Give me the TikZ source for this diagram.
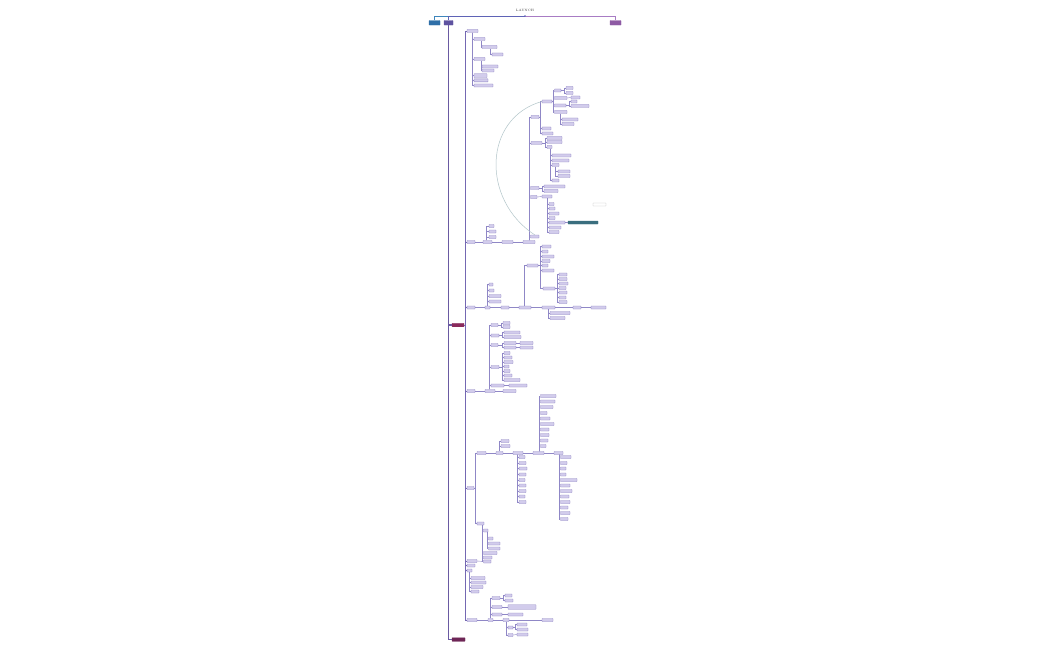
\documentclass[tikz,border=0pt]{standalone}
\usetikzlibrary{calc}
\definecolor{lav}{HTML}{D2CCEC}
\definecolor{bdr}{HTML}{8C83C2}
\definecolor{lnc}{HTML}{8F87C6}
\definecolor{spc}{HTML}{7468B2}
\definecolor{thc}{HTML}{6A5AA2}
\definecolor{blueN}{HTML}{2F6FA8}
\definecolor{purN}{HTML}{5E52A0}
\definecolor{rN}{HTML}{8E5AA4}
\definecolor{magN}{HTML}{8A2A5C}
\definecolor{magNN}{HTML}{6E2656}
\definecolor{tealN}{HTML}{3A6E7E}
\definecolor{crvc}{HTML}{B3C6CA}
\definecolor{cBl}{HTML}{3F86BC}
\definecolor{cPl}{HTML}{5F63B6}
\definecolor{cRl}{HTML}{A87CC4}
\tikzset{
 nbox/.style={draw=bdr, fill=lav, line width=0.3pt, inner sep=0pt, minimum height=3pt, rounded corners=0.3pt},
 topn/.style={line width=0.3pt, inner sep=0pt, minimum height=4.5pt, rounded corners=0.3pt},
 ln/.style={draw=lnc, line width=0.4pt},
 spn/.style={draw=spc, line width=0.6pt},
 thk/.style={draw=thc, line width=1.1pt},
 crv/.style={draw=crvc, line width=0.5pt},
}
\newcommand{\nb}[5][]{\node[nbox,#1,minimum width={#4pt-#3pt}] (#2) at ({(#3+#4)/2},#5) {};}
\newcommand{\eH}[2]{\draw[ln] (#1.east) -- (#2.west);}
\newcommand{\eD}[3]{\draw[ln] ([xshift=#2pt]#1.south west) |- (#3.west);}
\newcommand{\eU}[3]{\draw[ln] ([xshift=#2pt]#1.north west) |- (#3.west);}
\newcommand{\eB}[3][1.5]{\draw[ln] (#2.east) -| ([xshift=-#1pt]#3.west) -- (#3.west);}
\begin{document}
\begin{tikzpicture}[x=1pt,y=-1pt]
\fill[white] (0,0) rectangle (1050,650);
\useasboundingbox (0,0) rectangle (1050,650);
% ---------- top ----------
\node[font=\fontsize{3.2}{4}\selectfont, text=black!75, inner sep=0pt] (root) at (525,10.5) {LAUNCH};
\coordinate (hub) at (525,16);
\nb[topn,fill=blueN,draw=blueN]{B}{429}{440}{22.8}
\nb[topn,fill=purN,draw=purN]{P}{444}{453}{22.8}
\nb[topn,fill=rN,draw=rN]{R}{610}{621}{22.8}
\draw[draw=cBl,line width=0.8pt] (hub) -| (B.north);
\draw[draw=cPl,line width=0.8pt] (hub) -| (P.north);
\draw[draw=cRl,line width=0.8pt] (hub) -| (R.north);
\fill[cPl] (hub) circle (0.9pt);
% ---------- main branch ----------
\nb[fill=magN,draw=magN,minimum height=3.5pt]{M1}{452}{464}{325}
\nb[fill=magNN,draw=magNN,minimum height=3.5pt]{M2}{452}{465}{639.5}
\draw[thk] (P.south) |- (M2.west);
\draw[thk] (P.south) |- (M1.west);
% spine children
\nb{S1}{467}{478}{31}
\nb{S2}{467}{475}{242}
\nb{S3}{467}{475}{307.5}
\nb{S4}{467}{475}{391}
\nb{S5}{467}{474}{488}
\nb{S6}{467}{477}{561}
\nb{S7}{467}{475}{565.5}
\nb{S8}{467}{472}{570.5}
\nb{S9}{467}{477}{620}
\foreach \c in {S1,S2,S3,S4,S5,S6,S7,S8,S9}{\draw[spn] (M1.east) -| ([xshift=-1.8pt]\c.west) -- (\c.west);}
% ---------- region A ----------
\nb{A1}{474}{485}{39}
\nb{A2}{474}{485}{59}
\nb[minimum height=3.8pt]{A3}{474}{487}{75.6}
\nb{A4}{474}{488}{80.4}
\nb{A5}{474}{493}{85.5}
\foreach \c in {A1,A2,A3,A4,A5}{\eD{S1}{5}{\c}}
\nb{A1a}{482}{497}{47}
\eD{A1}{7}{A1a}
\nb{A1b}{492}{503}{54.5}
\eD{A1a}{8}{A1b}
\nb{A2a}{482}{498}{66.5}
\nb{A2b}{482}{494}{70.5}
\eD{A2}{7}{A2a}
\eD{A2}{7}{A2b}
% ---------- row S2 ----------
\nb{B1}{483}{492}{242}
\nb{B2}{502}{513}{242}
\nb{B3}{523}{535}{242}
\eH{S2}{B1}\eH{B1}{B2}\eH{B2}{B3}
\nb{B1a}{489}{494}{226}
\nb{B1b}{489}{496}{231.5}
\nb{B1c}{489}{496}{237}
\foreach \c in {B1a,B1b,B1c}{\eU{B1}{3}{\c}}
\nb{C1}{531}{539}{117}
\nb{C2}{531}{542}{143}
\nb{C3}{530.5}{539}{188}
\nb{C4}{530.5}{537}{197}
\nb{C5}{530.5}{539}{236.5}
\foreach \c in {C1,C2,C3,C4,C5}{\eU{B3}{6}{\c}}
\nb{C1a}{542}{552}{101.5}
\nb{C1b}{542}{551}{128.5}
\nb{C1c}{542}{553}{133.5}
\foreach \c in {C1a,C1b,C1c}{\eB{C1}{\c}}
\nb{D1}{554.5}{561}{90.5}
\nb{D2}{554.5}{567}{98}
\nb{D3}{554.5}{566}{105.5}
\nb{D4}{554.5}{567}{112}
\foreach \c in {D1,D2,D3,D4}{\eB[1.2]{C1a}{\c}}
\nb{D1a}{566}{573}{88}
\nb{D1b}{566}{573}{93}
\eB{D1}{D1a}\eB{D1}{D1b}
\nb{D2a}{571}{580}{97.5}
\eH{D2}{D2a}
\nb{D3a}{571}{577}{101.5}
\nb{D3b}{571}{589}{106}
\eB{D3}{D3a}\eB{D3}{D3b}
\nb{D4a}{562}{578}{119.5}
\nb{D4b}{562}{574}{124}
\eD{D4}{6}{D4a}\eD{D4}{6}{D4b}
\nb{E1}{547}{562}{138}
\nb{E2}{547}{562}{142}
\nb{E3}{547}{552}{147}
\foreach \c in {E1,E2,E3}{\eB{C2}{\c}}
\nb{E3a}{552}{571}{155.5}
\nb{E3b}{552}{569}{160.5}
\nb{E3c}{552}{559}{165}
\nb{E3d}{552}{559}{180.5}
\foreach \c in {E3a,E3b,E3c,E3d}{\eD{E3}{3}{\c}}
\nb{E3c1}{558}{570}{171.5}
\nb{E3c2}{558}{570}{176}
\eD{E3c}{3.5}{E3c1}\eD{E3c}{3.5}{E3c2}
\nb{G3a}{544}{565}{186.5}
\nb{G3b}{544}{558}{191}
\eB{C3}{G3a}\eB{C3}{G3b}
\nb{F}{542}{552}{196.5}
\eH{C4}{F}
\foreach \yy/\xx [count=\i] in {204/554,208.5/555,213.5/559,218/555,222.5/565,227.5/561,232/559}{
 \nb{F\i}{549}{\xx}{\yy}
 \eD{F}{5}{F\i}
}
\nb[fill=tealN,draw=tealN]{T}{568}{598}{222.5}
\eH{F5}{T}
\nb[fill=white,draw=black!22]{note}{593}{606}{204.5}
\draw[crv] (C1a.west) .. controls (483,118) and (481,200) .. (C5.north);
% ---------- row S3 ----------
\nb{G1}{485}{490}{307.5}
\nb{G2}{501}{509}{307.5}
\nb{G3}{519}{531}{307.5}
\nb{G4}{542}{555}{307.5}
\nb{G5}{573}{581}{307.5}
\nb{G6}{591}{606}{307.5}
\eH{S3}{G1}\eH{G1}{G2}\eH{G2}{G3}\eH{G3}{G4}\eH{G4}{G5}\eH{G5}{G6}
\foreach \yy/\xx [count=\i] in {284.5/493,290.5/494,296/501,301.5/501}{
 \nb{G1c\i}{489}{\xx}{\yy}
 \eU{G1}{2.5}{G1c\i}
}
\nb{H}{527}{538}{265.5}
\eU{G3}{5}{H}
\foreach \yy/\xx [count=\i] in {246.5/551,251.5/548,256.5/554,261/550,265.5/548,270.5/554}{
 \nb{Hc\i}{542}{\xx}{\yy}
 \eB{H}{Hc\i}
}
\nb{H7}{543}{555}{288.5}
\eB[2.5]{H}{H7}
\foreach \yy/\xx [count=\i] in {274.5/567,279/567,283.5/568,288/566,292.5/567,297.5/566,302/567}{
 \nb{H7c\i}{559}{\xx}{\yy}
 \eB{H7}{H7c\i}
}
\nb{G4a}{550}{570}{313}
\nb{G4b}{550}{565}{318}
\eD{G4}{6}{G4a}\eD{G4}{6}{G4b}
% ---------- row S4 ----------
\nb{K1}{485}{495}{391}
\nb{K2}{503}{516}{391}
\eH{S4}{K1}\eH{K1}{K2}
\nb{L1}{491}{498}{325}
\nb{L2}{491}{499}{335.5}
\nb{L3}{491}{498}{345}
\nb{L4}{491}{499}{367}
\nb{L5}{491}{504}{385.5}
\foreach \c in {L1,L2,L3,L4,L5}{\eU{K1}{4}{\c}}
\nb{L5a}{509}{527}{385.5}
\eH{L5}{L5a}
\nb{L1a}{503}{510}{323}
\nb{L1b}{503}{510}{327}
\eB{L1}{L1a}\eB{L1}{L1b}
\nb{L2a}{504}{520}{332.5}
\nb{L2b}{504}{521}{337}
\eB{L2}{L2a}\eB{L2}{L2b}
\nb{L3a}{504}{516}{343}
\nb{L3b}{504}{516}{347.5}
\eB{L3}{L3a}\eB{L3}{L3b}
\nb{L3a1}{520}{533}{343}
\nb{L3b1}{520}{533}{347.5}
\eH{L3a}{L3a1}\eH{L3b}{L3b1}
\foreach \yy/\xx [count=\i] in {353/510,357.5/512,362/513,366.5/509,371/510,375.5/512,380/520}{
 \nb{L4c\i}{504}{\xx}{\yy}
 \eB{L4}{L4c\i}
}
% ---------- row S5 ----------
\nb{N1}{477}{486}{453}
\nb{N2}{477}{484}{523.5}
\eB{S5}{N1}\eB{S5}{N2}
\nb{P1}{496}{503}{453}
\nb{P2}{513}{523}{453}
\nb{P3}{533}{544}{453}
\nb{P4}{554}{563}{453}
\eH{N1}{P1}\eH{P1}{P2}\eH{P2}{P3}\eH{P3}{P4}
\nb{P1a}{501}{509}{441}
\nb{P1b}{501}{510}{446}
\eU{P1}{3}{P1a}\eU{P1}{3}{P1b}
\foreach \yy/\xx [count=\i] in {457/525,463/526,468.5/527,474.5/526,480/525,485.5/526,491/526,496.5/525,502/526}{
 \nb{P2c\i}{519}{\xx}{\yy}
 \eD{P2}{4}{P2c\i}
}
\foreach \yy/\xx [count=\i] in {396/556,401.5/555,407/553,413/547,418.5/550,424/554,429.5/549,435/549,440.5/548,446/546}{
 \nb{P3c\i}{540.5}{\xx}{\yy}
 \eU{P3}{6}{P3c\i}
}
\foreach \yy/\xx [count=\i] in {457/571,463/567,468.5/566,474.5/566,480/577,485.5/570,491/572,496.5/569,502/570,507.5/568,513/570,519/568}{
 \nb{P4c\i}{560.5}{\xx}{\yy}
 \eD{P4}{5}{P4c\i}
}
\nb{Q1}{483.5}{488}{530.5}
\nb{Q2}{483.5}{497}{553}
\nb{Q3}{483.5}{492}{557.5}
\nb{Q4}{483.5}{491}{561.5}
\foreach \c in {Q1,Q2,Q3,Q4}{\eD{N2}{5}{\c}}
\foreach \yy/\xx [count=\i] in {538.5/493,543.5/500,548.5/500}{
 \nb{Q1c\i}{488.5}{\xx}{\yy}
 \eD{Q1}{3.5}{Q1c\i}
}
\eH{S6}{Q4}
% ---------- S8 ----------
\foreach \yy/\xx [count=\i] in {578/485,582.5/486,587/483,591.5/479}{
 \nb{S8c\i}{471}{\xx}{\yy}
 \eD{S8}{2.5}{S8c\i}
}
% ---------- row S9 ----------
\nb{R1}{488}{493}{620}
\nb{R2}{503}{509}{620}
\nb{R3}{542}{553}{620}
\eH{S9}{R1}\eH{R1}{R2}\eH{R2}{R3}
\nb{R1a}{492}{500}{598}
\nb{R1b}{492}{502}{607}
\nb{R1c}{492}{502}{614.5}
\foreach \c in {R1a,R1b,R1c}{\eU{R1}{2}{\c}}
\nb{R1a1}{505}{512}{595.5}
\nb{R1a2}{505}{513}{600.5}
\eB{R1a}{R1a1}\eB{R1a}{R1a2}
\nb[minimum height=4.5pt]{R1b1}{508}{536}{607}
\eH{R1b}{R1b1}
\nb{R1c1}{508}{523}{614.5}
\eH{R1c}{R1c1}
\nb{R2a}{508}{513}{627.5}
\nb{R2b}{508}{513}{635}
\eD{R2}{3}{R2a}\eD{R2}{3}{R2b}
\nb{R2a1}{517}{527}{624.5}
\nb{R2a2}{517}{528}{629.5}
\eB{R2a}{R2a1}\eB{R2a}{R2a2}
\nb{R2b1}{517}{528}{634.5}
\eH{R2b}{R2b1}
\end{tikzpicture}
\end{document}
